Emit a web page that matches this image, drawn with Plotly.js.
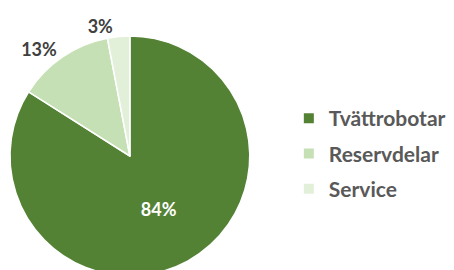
<!DOCTYPE html>
<html><head><meta charset="utf-8">
<script src="https://cdn.plot.ly/plotly-3.0.1.min.js"></script>
<style>html,body{margin:0;padding:0;overflow:hidden;background:#fff}#chart{width:454px;height:300px}</style>
</head><body><div id="chart"></div>
<script>
var labels = ['Tvättrobotar', 'Reservdelar', 'Service'];
var values = [84, 13, 3];
var colors = ['#548235', '#C5E0B4', '#E2F0D9'];
var textPositions = ['inside', 'outside', 'outside'];

var pie = {
  type: 'pie',
  labels: labels,
  values: values,
  sort: false,
  direction: 'clockwise',
  rotation: 0,
  showlegend: false,
  marker: {colors: colors, line: {color: '#FFFFFF', width: 1.5}},
  texttemplate: '%{percent:.0%}',
  textposition: textPositions,
  insidetextfont: {family: 'Lato', size: 18, color: '#FFFFFF', weight: 700},
  outsidetextfont: {family: 'Lato', size: 18, color: '#404040', weight: 700},
  automargin: false,
  hoverinfo: 'none',
  domain: {x: [0, 0.54], y: [0, 1]}
};

// legend entries built from the same labels / colours
var legendTraces = labels.map(function (lab, i) {
  return {
    type: 'scatter', mode: 'markers', x: [null], y: [null],
    name: lab, legendgroup: 'g' + i, showlegend: true,
    marker: {symbol: 'square', size: 10, color: colors[i]},
    hoverinfo: 'none'
  };
});

var layout = {
  width: 454, height: 300,
  margin: {l: 10, r: 0, t: 36, b: 24},
  paper_bgcolor: '#FFFFFF',
  plot_bgcolor: 'rgba(0,0,0,0)',
  xaxis: {visible: false, showgrid: false, zeroline: false},
  yaxis: {visible: false, showgrid: false, zeroline: false},
  showlegend: true,
  legend: {x: 0.628, y: 0.51, xanchor: 'left', yanchor: 'middle',
    tracegroupgap: 5, traceorder: 'grouped',
    font: {family: 'Lato', size: 21, color: '#595959', weight: 700},
    itemclick: false}
};

Plotly.newPlot('chart', [pie].concat(legendTraces), layout, {displayModeBar: false, staticPlot: true});
</script></body></html>
